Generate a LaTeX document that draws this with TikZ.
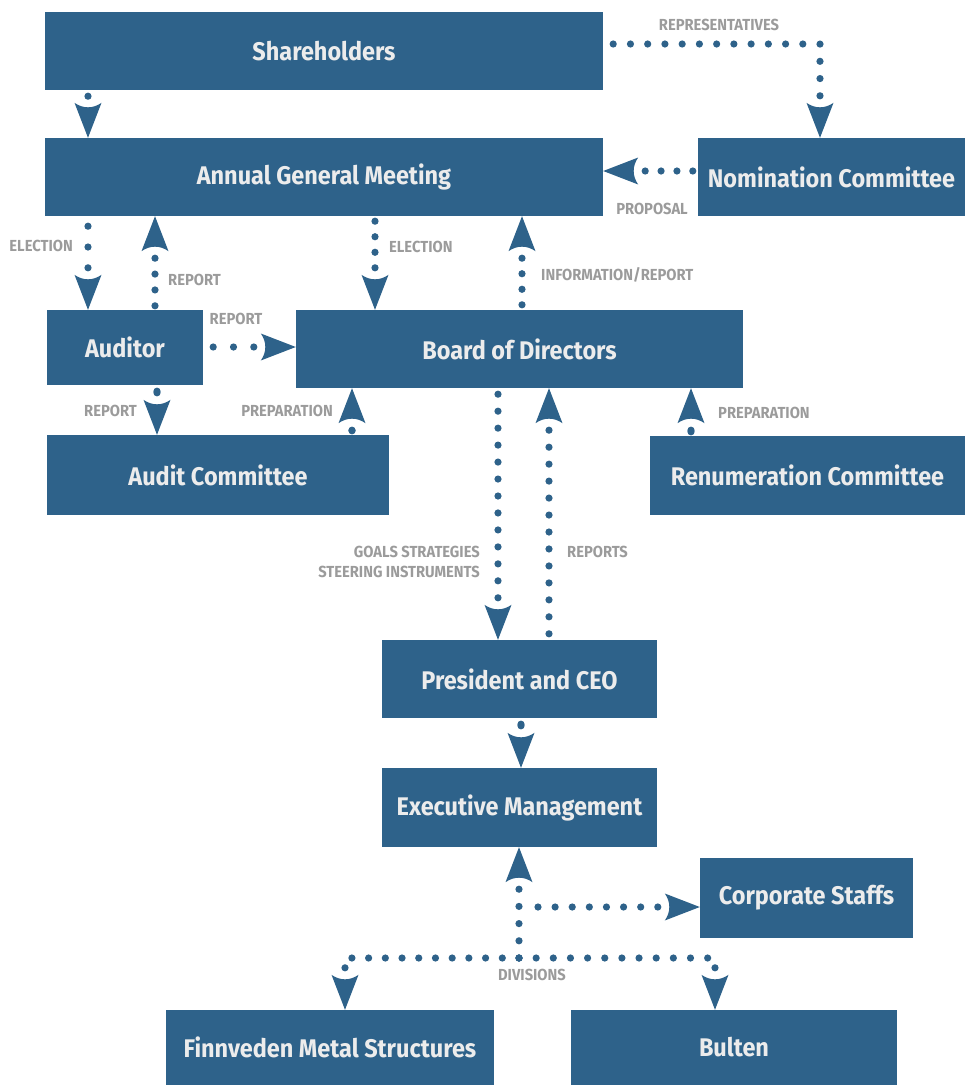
\documentclass[tikz,border=0pt]{standalone}
\usepackage{fontspec}
\setmainfont{Fira Sans}
\newfontfamily\boxfont[FakeStretch=0.92]{Fira Sans}
\newfontfamily\labfont[FakeStretch=0.92]{Fira Sans}
\usetikzlibrary{decorations.markings}
\definecolor{boxblue}{RGB}{46,98,138}
\definecolor{labgray}{RGB}{155,155,155}
\definecolor{boxtext}{RGB}{236,236,236}
\tikzset{
  orgbox/.style={fill=boxblue, text=boxtext, font=\boxfont\bfseries\fontsize{25.5}{30}\selectfont, inner sep=0pt, anchor=center},
  lab/.style={text=labgray, font=\labfont\bfseries\fontsize{16}{20}\selectfont, inner sep=0pt},
  conn/.style={postaction={decorate, decoration={markings,
     mark={between positions #1 and \pgfdecoratedpathlength-41.5pt step (\pgfdecoratedpathlength-42pt-#1)/max(1,round((\pgfdecoratedpathlength-42pt-#1)/17pt)) with {\fill[boxblue] (0pt,0pt) circle[radius=3.6pt];}},
     mark={at position 1 with {\fill[boxblue] (0pt,0pt) -- (-35pt,13.5pt) .. controls (-29pt,5pt) and (-29pt,-5pt) .. (-35pt,-13.5pt) -- cycle;}}}}},
  conn/.default=6pt
}
\begin{document}
\begin{tikzpicture}[x=1pt,y=-1pt]
\useasboundingbox (0,0) rectangle (965,1085);
% boxes
\node[orgbox, minimum width=558pt, minimum height=78pt] (sh) at (324,51) {Shareholders};
\node[orgbox, minimum width=558pt, minimum height=78pt] (agm) at (324,177) {Annual General Meeting};
\node[orgbox, minimum width=267pt, minimum height=78pt] (nom) at (831.5,177) {Nomination Committee};
\node[orgbox, minimum width=156pt, minimum height=75pt] (aud) at (125,347.5) {Auditor};
\node[orgbox, minimum width=447pt, minimum height=78pt] (bod) at (519.5,349) {Board of Directors};
\node[orgbox, minimum width=342pt, minimum height=80pt] (ac) at (218,475) {Audit Committee};
\node[orgbox, minimum width=315pt, minimum height=79pt] (rc) at (807.5,475.5) {Renumeration Committee};
\node[orgbox, minimum width=275pt, minimum height=78pt] (ceo) at (519.5,679) {President and CEO};
\node[orgbox, minimum width=275pt, minimum height=79pt] (em) at (519.5,807.5) {Executive Management};
\node[orgbox, minimum width=213pt, minimum height=80pt] (cs) at (806.5,898) {Corporate Staffs};
\node[orgbox, minimum width=328pt, minimum height=75pt] (fms) at (330,1047.5) {Finnveden Metal Structures};
\node[orgbox, minimum width=326pt, minimum height=75pt] (bu) at (734,1047.5) {Bulten};
\coordinate (div) at (519,958);
\coordinate (csb) at (519,907);
% connectors
\path[conn] (88,0 |- sh.south) -- (88,0 |- agm.north);
\path[conn=10pt] (sh.east |- 0,44) -| (820,0 |- nom.north);
\path[conn=5pt] (nom.west |- 0,171) -- (agm.east |- 0,171);
\path[conn=10pt] (88,0 |- agm.south) -- (88,0 |- aud.north);
\path[conn=4pt] (155,0 |- aud.north) -- (155,0 |- agm.south);
\path[conn=5pt] (375,0 |- agm.south) -- (375,0 |- bod.north);
\path[conn=5pt] (522,0 |- bod.north) -- (522,0 |- agm.south);
\path[conn=10pt] (aud.east |- 0,347) -- (bod.west |- 0,347);
\path[conn=6pt] (157,0 |- aud.south) -- (157,0 |- ac.north);
\path[conn=4pt] (352,0 |- ac.north) -- (352,0 |- bod.south);
\path[conn=4pt] (691,0 |- rc.north) -- (691,0 |- bod.south);
\path[conn=6pt] (498,0 |- bod.south) -- (498,0 |- ceo.north);
\path[conn=6pt] (549,0 |- ceo.north) -- (549,0 |- bod.south);
\path[conn=6pt] (521,0 |- ceo.south) -- (521,0 |- em.north);
\path[conn=0pt] (div) -- (519,0 |- em.south);
\path[conn=19pt] (csb) -- (cs.west |- csb);
\path[conn=0pt] (div) -| (345,0 |- fms.north);
\path[conn=0pt] (div) -| (715,0 |- bu.north);
% labels
\node[lab] (lrep) at (719,25) {REPRESENTATIVES};
\node[lab] (lprop) at (652,209) {PROPOSAL};
\node[lab, anchor=east] (lel1) at (73,246) {ELECTION};
\node[lab, anchor=west] (lrp1) at (168,280) {REPORT};
\node[lab, anchor=west] (lel2) at (389,247) {ELECTION};
\node[lab, anchor=west] (linf) at (541,275) {INFORMATION/REPORT};
\node[lab] (lrp2) at (236,319) {REPORT};
\node[lab, anchor=east] (lrp3) at (137,411) {REPORT};
\node[lab, anchor=east] (lpr1) at (333,411) {PREPARATION};
\node[lab, anchor=west] (lpr2) at (718,413) {PREPARATION};
\node[lab, anchor=east, align=right] (lgoal) at (480,562) {GOALS STRATEGIES\\STEERING INSTRUMENTS};
\node[lab, anchor=west] (lreps) at (567,552) {REPORTS};
\node[lab] (ldiv) at (532,975) {DIVISIONS};
\end{tikzpicture}
\end{document}
